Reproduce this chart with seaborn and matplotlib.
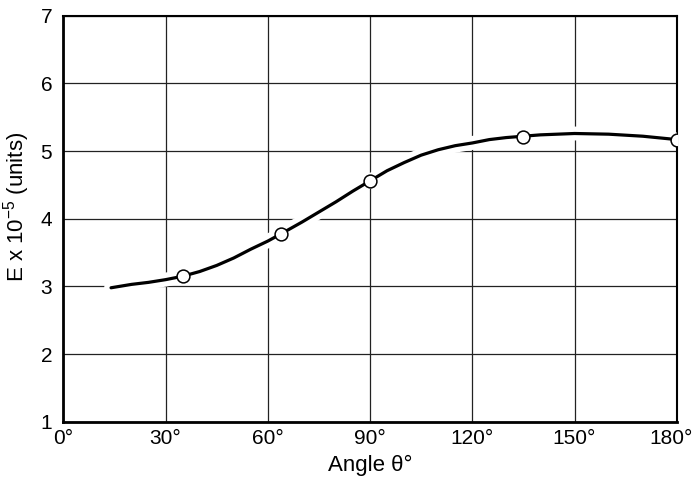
import matplotlib
matplotlib.use("Agg")
import matplotlib.pyplot as plt
import matplotlib.patheffects as pe
import matplotlib.transforms as mtransforms
import seaborn as sns
import pandas as pd

# Smooth curve
curve_angle = [14, 20, 25, 30, 35, 40, 45, 50, 55, 60, 64, 70, 75, 80, 85, 90,
               95, 100, 105, 110, 115, 120, 125, 130, 135, 140, 150, 160, 170, 180]
curve_E = [2.98, 3.03, 3.06, 3.10, 3.15, 3.22, 3.31, 3.42, 3.55, 3.67, 3.78, 3.95,
           4.10, 4.25, 4.41, 4.56, 4.71, 4.83, 4.94, 5.02, 5.08, 5.12, 5.17, 5.20,
           5.22, 5.24, 5.26, 5.25, 5.22, 5.17]

# Measured points (open circles)
point_angle = [35, 64, 90, 135, 180]
point_E = [3.15, 3.78, 4.56, 5.21, 5.16]

x_ticks = [0, 30, 60, 90, 120, 150, 180]
x_tick_labels = ["0°", "30°", "60°", "90°", "120°", "150°", "180°"]
y_ticks = [1, 2, 3, 4, 5, 6, 7]

curve_df = pd.DataFrame({"angle": curve_angle, "E": curve_E})
point_df = pd.DataFrame({"angle": point_angle, "E": point_E})

sns.set_theme(style="white")
plt.rcParams["font.family"] = ["Liberation Sans", "DejaVu Sans"]

fig = plt.figure(figsize=(6.92, 4.82), dpi=100)
ax = fig.add_axes([0.0915, 0.125, 0.8865, 0.8423])

sns.lineplot(data=curve_df, x="angle", y="E", ax=ax, color="black", lw=2.3,
             zorder=3, sort=False,
             path_effects=[pe.Stroke(linewidth=10, foreground="white"), pe.Normal()])
sns.scatterplot(data=point_df, x="angle", y="E", ax=ax, s=85, color="white",
                edgecolor="black", linewidth=1.1, zorder=4)

ax.set_xlim(0, 180)
ax.set_ylim(1, 7)
ax.set_xticks(x_ticks)
ax.set_xticklabels(x_tick_labels)
ax.set_yticks(y_ticks)
ax.tick_params(axis="both", length=0, labelsize=15, colors="black")
ax.tick_params(axis="x", pad=5)
ax.tick_params(axis="y", pad=8)
ax.grid(True, color="#222222", lw=0.9)
ax.set_axisbelow(True)

# keep the last x label inside the figure
last = ax.get_xticklabels()[-1]
last.set_transform(last.get_transform() +
                   mtransforms.ScaledTranslation(-6 / 100, 0, fig.dpi_scale_trans))

for side, lw in [("left", 2.0), ("bottom", 2.0), ("top", 1.5), ("right", 1.5)]:
    ax.spines[side].set_visible(True)
    ax.spines[side].set_color("black")
    ax.spines[side].set_linewidth(lw)
    ax.spines[side].set_zorder(2.5)

ax.set_xlabel("Angle θ°", fontsize=16, color="black", labelpad=5)
ax.set_ylabel(r"E x 10$^{\mathregular{-5}}$ (units)", fontsize=16, color="black")
ax.yaxis.set_label_coords(-0.051, 0.53)

fig.savefig("out.png", dpi=100)
